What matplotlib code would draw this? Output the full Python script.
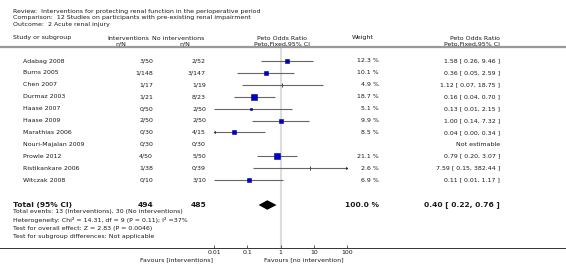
import matplotlib
matplotlib.use("Agg")
import matplotlib.pyplot as plt
import matplotlib.transforms as mtransforms
from matplotlib.lines import Line2D
import numpy as np

# data
studies = ["Adabag 2008", "Burns 2005", "Chen 2007", "Durmaz 2003", "Haase 2007",
           "Haase 2009", "Marathias 2006", "Nouri-Majalan 2009", "Prowle 2012",
           "Ristikankare 2006", "Witczak 2008"]
int_events = [3, 1, 1, 1, 0, 2, 0, 0, 4, 1, 0]
int_total = [50, 148, 17, 21, 50, 50, 30, 30, 50, 38, 10]
ctl_events = [2, 3, 1, 8, 2, 2, 4, 0, 5, 0, 3]
ctl_total = [52, 147, 19, 23, 50, 50, 15, 30, 50, 39, 10]
weights = [12.3, 10.1, 4.9, 18.7, 5.1, 9.9, 8.5, np.nan, 21.1, 2.6, 6.9]
odds = [1.58, 0.36, 1.12, 0.16, 0.13, 1.00, 0.04, np.nan, 0.79, 7.59, 0.11]
ci_low = [0.26, 0.05, 0.07, 0.04, 0.01, 0.14, 0.00, np.nan, 0.20, 0.15, 0.01]
ci_high = [9.46, 2.59, 18.75, 0.70, 2.15, 7.32, 0.34, np.nan, 3.07, 382.44, 1.17]

total_int, total_ctl = 494, 485
total_or, total_lo, total_hi = 0.40, 0.22, 0.76

xticks = [0.01, 0.1, 1, 10, 100]
xtick_labels = ["0.01", "0.1", "1", "10", "100"]

header_lines = [
    "Review:  Interventions for protecting renal function in the perioperative period",
    "Comparison:  12 Studies on participants with pre-existing renal impairment",
    "Outcome:  2 Acute renal injury",
]
footer_lines = [
    "Total events: 13 (Interventions), 30 (No interventions)",
    "Heterogeneity: Chi\u00b2 = 14.31, df = 9 (P = 0.11); I\u00b2 =37%",
    "Test for overall effect: Z = 2.83 (P = 0.0046)",
    "Test for subgroup differences: Not applicable",
]

W, H = 566, 265
TXT = "#1a1a1a"
FS = 4.5

fig = plt.figure(figsize=(W / 100, H / 100), dpi=100)


def fx(px):
    return px / W


def fy(py):
    return 1 - py / H


def ftext(x, y, s, **kw):
    kw.setdefault("fontsize", FS)
    kw.setdefault("color", TXT)
    kw.setdefault("va", "center")
    fig.text(fx(x), fy(y), s, **kw)


# forest axes: 0.01..100 on log scale, rows as categories
row_top, row_step = 61, 11.9
ax_top, ax_bot = 47, 248
ax = fig.add_axes([fx(214), fy(ax_bot), fx(347) - fx(214), (ax_bot - ax_top) / H])
ax.set_xscale("log")
ax.set_xlim(0.01, 100)
ax.set_ylim((ax_bot - row_top) / row_step, (ax_top - row_top) / row_step)
ax.patch.set_alpha(0)
for sp in ax.spines.values():
    sp.set_visible(False)
ax.set_yticks([])
ax.set_xticks(xticks)
ax.set_xticklabels(xtick_labels)
ax.minorticks_off()
ax.tick_params(axis="x", direction="in", length=2.5, width=0.6, color="#444444",
               labelsize=FS, labelcolor=TXT, pad=1.5)
ax.axvline(1, color="#dddddd", lw=1.5, zorder=0)

rows = np.arange(len(studies))
total_row = (205 - row_top) / row_step

for y, w, o, lo, hi in zip(rows, weights, odds, ci_low, ci_high):
    if np.isnan(o):
        continue
    lo_c, hi_c = max(lo, 0.01), min(hi, 100)
    ax.plot([lo_c, hi_c], [y, y], color="#666666", lw=0.8, solid_capstyle="butt")
    if lo < 0.01:
        ax.plot(0.01, y, marker="<", ms=2.2, color="#333333", mec="none")
    if hi > 100:
        ax.plot(100, y, marker=">", ms=2.2, color="#333333", mec="none")
    if w < 5:
        ax.plot(o, y, marker="|", ms=3, mew=0.7, color="#444444")
    else:
        side = 1.25 * np.sqrt(w)
        ax.plot(o, y, marker="s", ms=side * 0.72, color="#0000cc", mec="#000088", mew=0.4)

# pooled diamond
d = 0.4
ax.fill([total_lo, total_or, total_hi, total_or],
        [total_row, total_row - d, total_row, total_row + d], color="black", lw=0)

# rules across the whole width
fig.add_artist(Line2D([fx(0), fx(W)], [fy(46.5)] * 2, color="#999999", lw=1.6))
fig.add_artist(Line2D([fx(0), fx(W)], [fy(248)] * 2, color="#333333", lw=0.7))

# title block
for i, s in enumerate(header_lines):
    ftext(13, 11 + 6.8 * i, s)

# column headers
ftext(13, 38, "Study or subgroup")
ftext(149, 38, "Interventions", ha="right")
ftext(126, 44, "n/N", ha="right")
ftext(204, 38, "No interventions", ha="right")
ftext(190, 44, "n/N", ha="right")
ftext(282, 38, "Peto Odds Ratio", ha="center")
ftext(282, 44, "Peto,Fixed,95% CI", ha="center")
ftext(374, 38, "Weight", ha="right")
ftext(500, 38, "Peto Odds Ratio", ha="right")
ftext(500, 44, "Peto,Fixed,95% CI", ha="right")

# per-study columns (x in figure fraction, y in row units)
trans = mtransforms.blended_transform_factory(fig.transFigure, ax.transData)


def rtext(x, y, s, **kw):
    kw.setdefault("fontsize", FS)
    kw.setdefault("color", TXT)
    kw.setdefault("va", "center")
    ax.text(fx(x), y, s, transform=trans, clip_on=False, **kw)


for y, name, a, b, c, e, w, o, lo, hi in zip(rows, studies, int_events, int_total,
                                             ctl_events, ctl_total, weights, odds,
                                             ci_low, ci_high):
    rtext(23, y, name)
    rtext(153, y, f"{a}/{b}", ha="right")
    rtext(206, y, f"{c}/{e}", ha="right")
    if np.isnan(o):
        rtext(500, y, "Not estimable", ha="right")
    else:
        rtext(379, y, f"{w:.1f} %", ha="right")
        rtext(500, y, f"{o:.2f} [ {lo:.2f}, {hi:.2f} ]", ha="right")

rtext(13, total_row, "Total (95% CI)", fontsize=5.4, weight="bold")
rtext(153, total_row, str(total_int), ha="right", fontsize=5.4, weight="bold")
rtext(206, total_row, str(total_ctl), ha="right", fontsize=5.4, weight="bold")
rtext(379, total_row, "100.0 %", ha="right", fontsize=5.4, weight="bold")
rtext(500, total_row, f"{total_or:.2f} [ {total_lo:.2f}, {total_hi:.2f} ]",
      ha="right", fontsize=5.4, weight="bold")

for i, s in enumerate(footer_lines):
    ftext(13, 212 + 8.3 * i, s)

ftext(213, 260, "Favours [interventions]", ha="right")
ftext(264, 260, "Favours [no intervention]", ha="left")

fig.savefig("out.png", dpi=100)
